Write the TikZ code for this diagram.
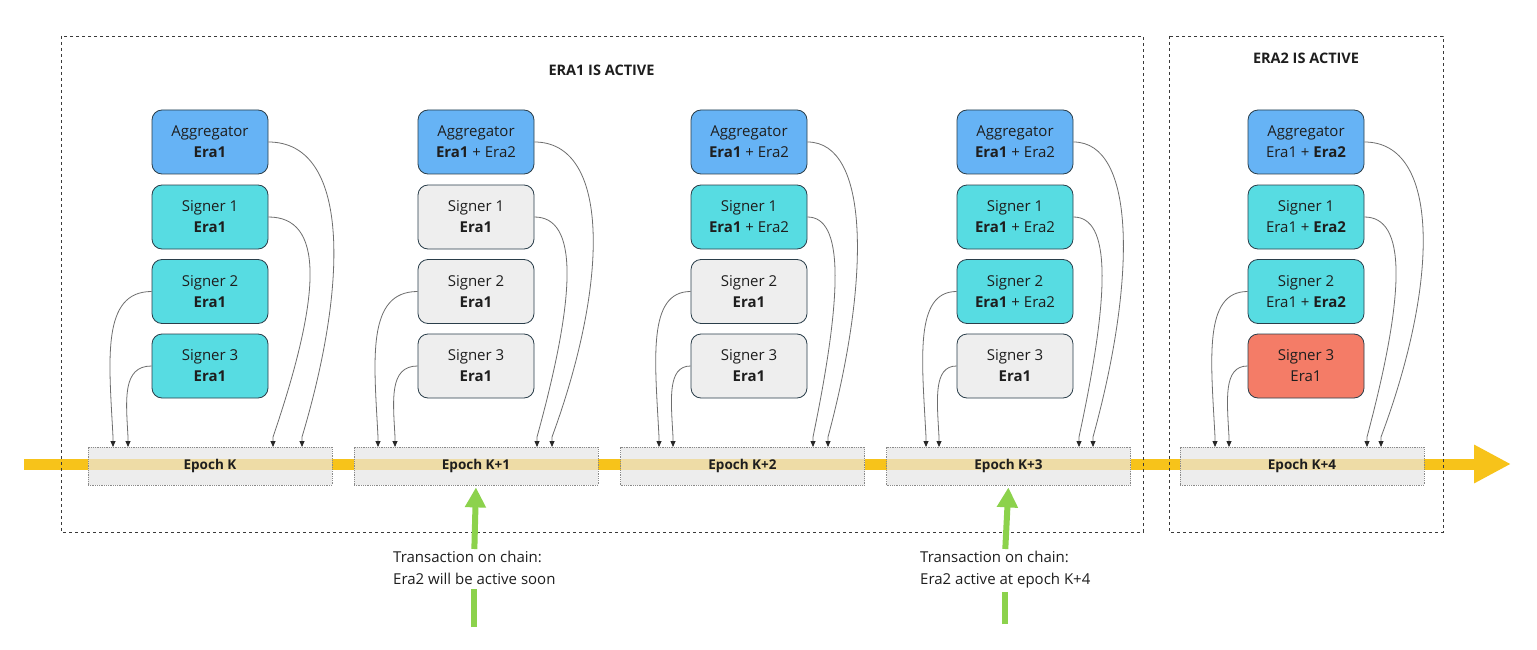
\documentclass[tikz,border=0pt]{standalone}
\usepackage{fontspec}
\setmainfont{Open Sans}
\usetikzlibrary{arrows.meta,calc}
\definecolor{aggc}{HTML}{66B3F5}
\definecolor{sigc}{HTML}{57DCE2}
\definecolor{offc}{HTML}{EEEEEE}
\definecolor{redc}{HTML}{F47C67}
\definecolor{bordc}{HTML}{2A3E4A}
\definecolor{txtc}{HTML}{1E1E1E}
\definecolor{epfill}{HTML}{EDEDED}
\definecolor{epbord}{HTML}{8A8A8A}
\definecolor{bandc}{HTML}{EEDCA6}
\definecolor{yelc}{HTML}{F7C31A}
\definecolor{grnc}{HTML}{8CD24C}
\definecolor{connc}{HTML}{6E6E6E}
\definecolor{framec}{HTML}{3A3A3A}
\tikzset{
  box/.style={rectangle, rounded corners=10pt, draw=bordc, line width=0.8pt,
    minimum width=116pt, minimum height=64pt, align=center, text=txtc,
    font=\fontsize{15}{21}\selectfont, inner sep=0pt},
  aggbox/.style={box, fill=aggc},
  sigbox/.style={box, fill=sigc},
  offbox/.style={box, fill=offc},
  redbox/.style={box, fill=redc},
  epoch/.style={rectangle, draw=epbord, densely dotted, line width=0.8pt, fill=epfill,
    minimum width=244pt, minimum height=38pt, inner sep=0pt, text=txtc,
    font=\bfseries\fontsize{13.5}{16}\selectfont,
    path picture={\fill[bandc] ($(path picture bounding box.west)+(0,-7)$) rectangle ($(path picture bounding box.east)+(0,4)$);}},
  conn/.style={draw=connc, line width=0.8pt, -{Triangle[length=6pt,width=5pt,color=black!85]}},
  frame/.style={draw=framec, line width=0.8pt, dash pattern=on 3pt off 3pt},
  title/.style={text=txtc, font=\bfseries\fontsize{14.5}{17}\selectfont},
  note/.style={text=txtc, align=left, font=\fontsize{15}{22}\selectfont, inner sep=2pt, anchor=north west},
  garrow/.style={draw=grnc, line width=6pt, -{Triangle[length=20pt,width=20pt]}, shorten >=2pt},
  gline/.style={draw=grnc, line width=6pt},
  yarrow/.style={draw=yelc, line width=11pt, -{Triangle[length=37pt,width=36pt]}}
}
\begin{document}
\begin{tikzpicture}[x=1pt,y=-1pt]
\useasboundingbox (0,0) rectangle (1537,650);
\fill[white] (0,0) rectangle (1537,650);

% main time line
\coordinate (ys) at (24,464);
\coordinate (ye) at (1511,464);
\draw[yarrow] (ys) -- (ye);

% frames
\draw[frame] (61,36) rectangle (1143,532);
\draw[frame] (1169,36) rectangle (1443,532);
\node[title] (t1) at (601.5,70) {ERA1 IS ACTIVE};
\node[title] (t2) at (1306,58) {ERA2 IS ACTIVE};

% epochs
\node[epoch] (ep1) at (210,466) {Epoch K};
\node[epoch] (ep2) at (476,466) {Epoch K+1};
\node[epoch] (ep3) at (742.5,466) {Epoch K+2};
\node[epoch] (ep4) at (1008.5,466) {Epoch K+3};
\node[epoch] (ep5) at (1302,466) {Epoch K+4};

% column 1
\node[aggbox] (agg1) at (210,142) {Aggregator\\\textbf{Era1}};
\node[sigbox] (sa1) at (210,217) {Signer 1\\\textbf{Era1}};
\node[sigbox] (sb1) at (210,291.5) {Signer 2\\\textbf{Era1}};
\node[sigbox] (sc1) at (210,366) {Signer 3\\\textbf{Era1}};
% column 2
\node[aggbox] (agg2) at (476,142) {Aggregator\\\textbf{Era1} + Era2};
\node[offbox] (sa2) at (476,217) {Signer 1\\\textbf{Era1}};
\node[offbox] (sb2) at (476,291.5) {Signer 2\\\textbf{Era1}};
\node[offbox] (sc2) at (476,366) {Signer 3\\\textbf{Era1}};
% column 3
\node[aggbox] (agg3) at (749,142) {Aggregator\\\textbf{Era1} + Era2};
\node[sigbox] (sa3) at (749,217) {Signer 1\\\textbf{Era1} + Era2};
\node[offbox] (sb3) at (749,291.5) {Signer 2\\\textbf{Era1}};
\node[offbox] (sc3) at (749,366) {Signer 3\\\textbf{Era1}};
% column 4
\node[aggbox] (agg4) at (1015,142) {Aggregator\\\textbf{Era1} + Era2};
\node[sigbox] (sa4) at (1015,217) {Signer 1\\\textbf{Era1} + Era2};
\node[sigbox] (sb4) at (1015,291.5) {Signer 2\\\textbf{Era1} + Era2};
\node[offbox] (sc4) at (1015,366) {Signer 3\\\textbf{Era1}};
% column 5
\node[aggbox] (agg5) at (1306,142) {Aggregator\\Era1 + \textbf{Era2}};
\node[sigbox] (sa5) at (1306,217) {Signer 1\\Era1 + \textbf{Era2}};
\node[sigbox] (sb5) at (1306,291.5) {Signer 2\\Era1 + \textbf{Era2}};
\node[redbox] (sc5) at (1306,366) {Signer 3\\Era1};

% connectors
\foreach \i/\cx/\pa/\pb/\pc/\pd/\ba/\bs in {
  1/210/113/128/273/302/333/310,
  2/476/378/395/537/552/593/567,
  3/749/659/673/813/828/857/835,
  4/1015/926/939/1079/1093/1123/1102,
  5/1306/1215/1229/1367/1381/1423/1396}{
  \pgfmathsetmacro\R{\cx+58}
  \pgfmathsetmacro\ca{(8*\ba-\R-\pd)/6}
  \pgfmathsetmacro\cs{(8*\bs-\R-\pc)/6}
  \coordinate (t\i-a) at (\pa,447);
  \coordinate (t\i-b) at (\pb,447);
  \coordinate (t\i-c) at (\pc,447);
  \coordinate (t\i-d) at (\pd,447);
  \draw[conn] (agg\i.east) .. controls (\ca,142) and (\ca,280) .. (\pd,437) -- (t\i-d);
  \draw[conn] (sa\i.east) .. controls (\cs,217) and (\cs,290) .. (\pc,437) -- (t\i-c);
  \draw[conn] (sb\i.west) .. controls ({\pa-12},291.5) and ({\pa-4},360) .. (\pa,437) -- (t\i-a);
  \draw[conn] (sc\i.west) .. controls ({\pb-6},366) and ({\pb-2},400) .. (\pb,437) -- (t\i-b);
}

% transactions
\node[note] (tx1) at (391,549) {Transaction on chain:\\Era2 will be active soon};
\node[note] (tx2) at (918,549) {Transaction on chain:\\Era2 active at epoch K+4};
\coordinate (g1) at (tx1.south |- 0,627);
\coordinate (g2) at (tx2.south |- 0,624);
\draw[garrow] (tx1.north) -- (ep2.south);
\draw[garrow] (tx2.north) -- (ep4.south);
\draw[gline] (g1) -- ([yshift=-2pt]tx1.south);
\draw[gline] (g2) -- ([yshift=-2pt]tx2.south);
\end{tikzpicture}
\end{document}
